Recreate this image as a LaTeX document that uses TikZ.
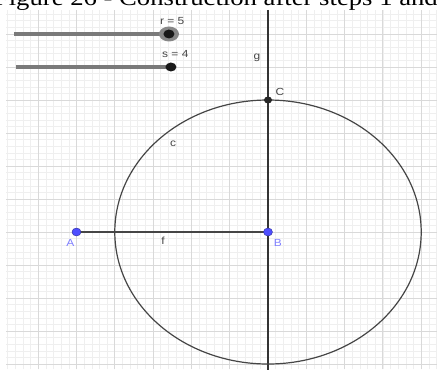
\documentclass[tikz,border=0pt]{standalone}
\usepackage{fontspec}
\usepackage{tikz}
\usetikzlibrary{positioning,calc,backgrounds,shapes.geometric}
\newfontfamily\ggfont[FakeStretch=1.16]{Liberation Sans}
\newfontfamily\capfont[FakeStretch=1.16]{Liberation Serif}
\definecolor{gridminor}{HTML}{EFEFEF}
\definecolor{gridmajor}{HTML}{D9D9D9}
\definecolor{ptblue}{HTML}{4D4DFF}
\definecolor{lblblue}{HTML}{8080FF}
\definecolor{objgray}{HTML}{454545}
\definecolor{slidergray}{HTML}{7A7A7A}

\begin{document}
\begin{tikzpicture}[x=38.3pt, y=33pt,
  minor/.style={draw=gridminor,line width=0.6pt},
  major/.style={draw=gridmajor,line width=0.9pt},
  pt/.style={ellipse,fill=ptblue,draw=ptblue!60!black,line width=0.4pt,minimum width=9pt,minimum height=8pt,inner sep=0pt},
  knob/.style={ellipse,fill=black!90,minimum width=11pt,minimum height=9pt,inner sep=0pt},
  lbl/.style={font=\ggfont\fontsize{10.3}{11}\selectfont,text=objgray,inner sep=0pt},
  ptlbl/.style={font=\ggfont\fontsize{10.3}{11}\selectfont,text=lblblue,inner sep=0pt},
  slider/.style={draw=slidergray,line width=3.2pt}]
  \useasboundingbox (-6.997,-4.1515) rectangle (4.4125,7.0303);
  \clip (-6.997,-4.1515) rectangle (4.4125,7.0303);
  % caption line, cut at the top
  \node[anchor=base west,inner sep=0pt,font=\capfont\fontsize{23}{24}\selectfont] (cap) at (-7.16,6.86) {Figure 26 - Construction after steps 1 and};
  % sliders
  \coordinate (rstart) at (-6.632,6);
  \coordinate (sstart) at (-6.58,5);
  \node[ellipse,fill=slidergray!90,minimum width=20pt,minimum height=15pt,inner sep=0pt] (rhalo) at (-2.585,6) {};
  \node[knob] (rknob) at (-2.585,6) {};
  \node[knob] (sknob) at (-2.533,5) {};
  \node[lbl] (rlbl) at (-2.5,6.38) {r = 5};
  \node[lbl] (slbl) at (-2.42,5.38) {s = 4};
  % construction
  \coordinate (gtop) at (0,6.73);
  \coordinate (gbot) at (0,-4.2);
  \node[pt] (A) at (-5,0) {};
  \node[pt] (B) at (0,0) {};
  \node[ellipse,fill=black!85,minimum width=8pt,minimum height=7pt,inner sep=0pt] (C) at (0,4) {};
  \begin{scope}[on background layer]
    % grid
    \foreach \i in {-34,...,22} { \draw[minor] (\i/5,-4.16) -- (\i/5,6.73); }
    \foreach \j in {-20,...,33} { \draw[minor] (-6.84,\j/5) -- (4.42,\j/5); }
    \foreach \i in {-6,...,4} { \draw[major] (\i,-4.16) -- (\i,6.73); }
    \foreach \j in {-4,...,6} { \draw[major] (-6.84,\j) -- (4.42,\j); }
    \draw[slider] (rstart) -- (rhalo.center);
    \draw[slider] (sstart) -- (sknob.center);
    \draw[draw=black!80,line width=1.3pt] (gtop) -- (gbot);
    \draw[draw=objgray,line width=1.2pt] (B.center) ellipse [x radius=4, y radius=4];
    \draw[draw=objgray,line width=2pt] (A.center) -- (B.center);
  \end{scope}
  % labels
  \node[lbl] at (-0.29,5.27) {g};
  \node[lbl] at (0.31,4.24) {C};
  \node[lbl] at (-2.48,2.67) {c};
  \node[lbl] at (-2.74,-0.27) {f};
  \node[ptlbl] at (-5.16,-0.33) {A};
  \node[ptlbl] at (0.26,-0.33) {B};
\end{tikzpicture}
\end{document}
